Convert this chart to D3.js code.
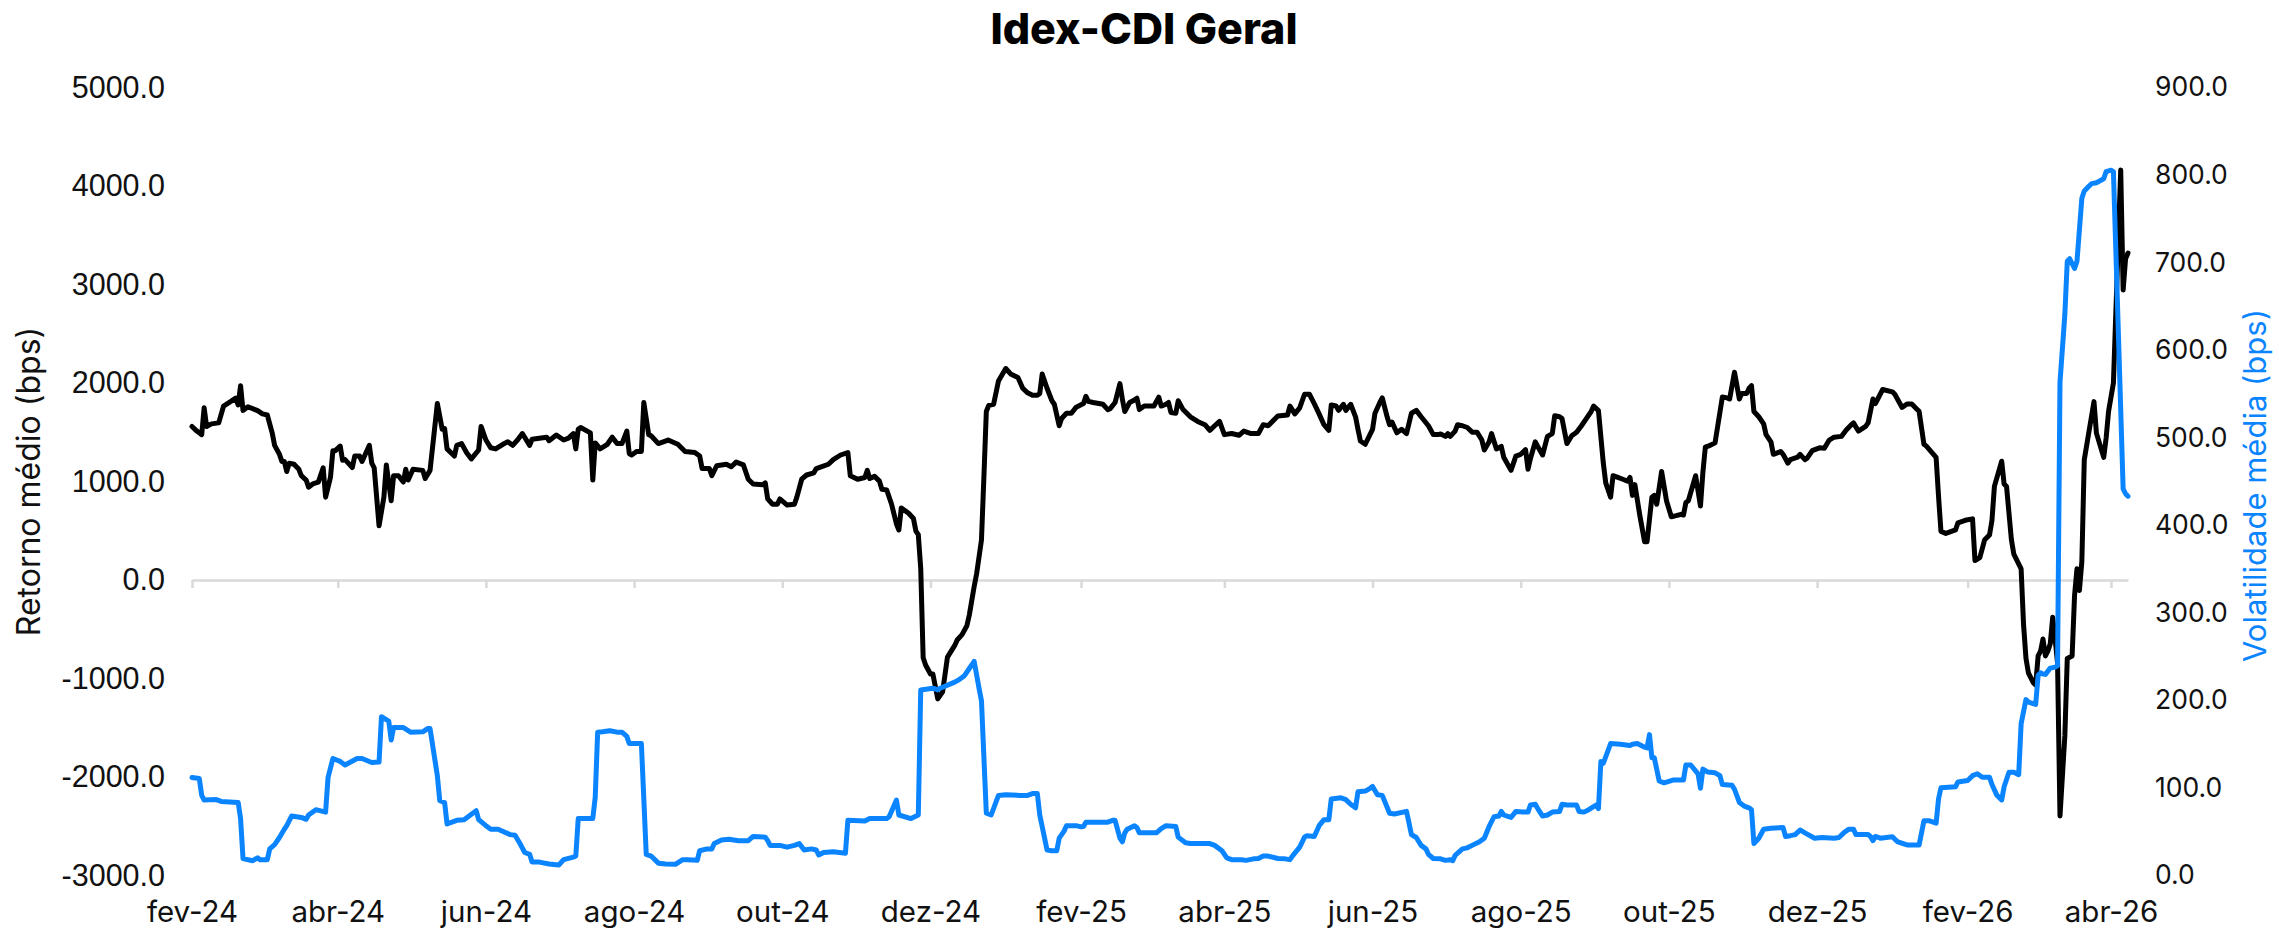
<!DOCTYPE html>
<html>
<head>
<meta charset="utf-8">
<title>Idex-CDI Geral</title>
<script src="https://cdn.jsdelivr.net/npm/d3@7"></script>
<style>
	body { margin: 0; background: #fff; }
	svg { display: block; }
</style>
</head>
<body>
<div id="chart"></div>
<script>

// Retorno médio (bps) - eixo esquerdo
var retornoMedio = [
	["2024-02-01",1559],["2024-02-03",1512],["2024-02-05",1476],["2024-02-06",1748],["2024-02-07",1559],
	["2024-02-09",1585],["2024-02-12",1595],["2024-02-14",1766],["2024-02-17",1813],["2024-02-19",1846],
	["2024-02-20",1777],["2024-02-21",1973],["2024-02-22",1722],["2024-02-24",1759],["2024-02-28",1719],
	["2024-03-01",1686],["2024-03-03",1675],["2024-03-05",1494],["2024-03-06",1367],["2024-03-08",1276],
	["2024-03-09",1204],["2024-03-10",1204],["2024-03-11",1102],["2024-03-12",1186],["2024-03-14",1175],
	["2024-03-16",1124],["2024-03-17",1059],["2024-03-19",1015],["2024-03-20",943],["2024-03-22",979],
	["2024-03-24",994],["2024-03-26",1139],["2024-03-27",841],["2024-03-29",1041],["2024-03-30",1313],
	["2024-03-31",1313],["2024-04-02",1360],["2024-04-03",1215],["2024-04-04",1222],["2024-04-07",1142],
	["2024-04-08",1258],["2024-04-10",1258],["2024-04-11",1204],["2024-04-13",1313],["2024-04-14",1367],
	["2024-04-15",1186],["2024-04-16",1139],["2024-04-18",551],["2024-04-20",841],["2024-04-21",1168],
	["2024-04-23",805],["2024-04-24",1059],["2024-04-26",1059],["2024-04-28",994],["2024-04-29",1124],
	["2024-04-30",1015],["2024-05-02",1124],["2024-05-06",1113],["2024-05-07",1030],["2024-05-09",1113],
	["2024-05-12",1791],["2024-05-14",1530],["2024-05-15",1537],["2024-05-16",1331],["2024-05-19",1258],
	["2024-05-20",1367],["2024-05-22",1385],["2024-05-24",1294],["2024-05-26",1229],["2024-05-29",1320],
	["2024-05-30",1559],["2024-06-01",1421],["2024-06-03",1342],["2024-06-05",1331],["2024-06-08",1378],
	["2024-06-10",1403],["2024-06-12",1367],["2024-06-14",1421],["2024-06-16",1487],["2024-06-19",1367],
	["2024-06-20",1429],["2024-06-23",1440],["2024-06-26",1450],["2024-06-27",1414],["2024-06-30",1472],
	["2024-07-03",1421],["2024-07-05",1440],["2024-07-07",1487],["2024-07-08",1331],["2024-07-09",1530],
	["2024-07-10",1548],["2024-07-14",1494],["2024-07-15",1015],["2024-07-16",1392],["2024-07-18",1331],
	["2024-07-21",1378],["2024-07-23",1450],["2024-07-25",1385],["2024-07-27",1385],["2024-07-29",1512],
	["2024-07-30",1284],["2024-07-31",1269],["2024-08-02",1305],["2024-08-04",1305],["2024-08-05",1802],
	["2024-08-07",1476],["2024-08-08",1465],["2024-08-11",1385],["2024-08-15",1421],["2024-08-19",1378],
	["2024-08-22",1305],["2024-08-26",1294],["2024-08-28",1258],["2024-08-29",1131],["2024-09-01",1131],
	["2024-09-02",1059],["2024-09-04",1160],["2024-09-08",1175],["2024-09-10",1149],["2024-09-12",1197],
	["2024-09-15",1168],["2024-09-17",1023],["2024-09-19",975],["2024-09-23",968],["2024-09-24",986],
	["2024-09-25",823],["2024-09-27",769],["2024-09-29",769],["2024-09-30",823],["2024-10-03",761],
	["2024-10-06",769],["2024-10-07",841],["2024-10-09",1023],["2024-10-11",1066],["2024-10-14",1088],
	["2024-10-15",1131],["2024-10-17",1149],["2024-10-20",1175],["2024-10-22",1222],["2024-10-25",1269],
	["2024-10-28",1294],["2024-10-29",1059],["2024-11-01",1023],["2024-11-04",1041],["2024-11-05",1113],
	["2024-11-06",1030],["2024-11-08",1052],["2024-11-10",1004],["2024-11-11",921],["2024-11-13",914],
	["2024-11-15",769],["2024-11-17",569],["2024-11-18",508],["2024-11-19",732],["2024-11-22",678],
	["2024-11-24",624],["2024-11-25",497],["2024-11-26",460],["2024-11-27",116],["2024-11-28",-790],
	["2024-11-29",-863],["2024-12-01",-954],["2024-12-02",-954],["2024-12-04",-1207],["2024-12-06",-1135],
	["2024-12-08",-783],["2024-12-11",-664],["2024-12-12",-609],["2024-12-14",-555],["2024-12-16",-464],
	["2024-12-17",-355],["2024-12-19",-65],["2024-12-20",62],["2024-12-22",406],["2024-12-23",1041],
	["2024-12-24",1711],["2024-12-25",1773],["2024-12-27",1784],["2024-12-29",2020],["2025-01-01",2147],
	["2025-01-03",2092],["2025-01-06",2056],["2025-01-08",1947],["2025-01-10",1900],["2025-01-12",1875],
	["2025-01-14",1875],["2025-01-15",1893],["2025-01-16",2092],["2025-01-18",1947],["2025-01-20",1820],
	["2025-01-21",1784],["2025-01-23",1566],["2025-01-24",1639],["2025-01-26",1693],["2025-01-28",1693],
	["2025-01-30",1755],["2025-02-02",1791],["2025-02-03",1864],["2025-02-04",1813],["2025-02-06",1802],
	["2025-02-10",1784],["2025-02-12",1730],["2025-02-13",1740],["2025-02-15",1802],["2025-02-17",1994],
	["2025-02-18",1838],["2025-02-19",1711],["2025-02-21",1802],["2025-02-23",1828],["2025-02-24",1846],
	["2025-02-25",1730],["2025-02-27",1766],["2025-03-03",1766],["2025-03-05",1857],["2025-03-06",1766],
	["2025-03-08",1784],["2025-03-09",1802],["2025-03-10",1701],["2025-03-12",1693],["2025-03-13",1820],
	["2025-03-15",1730],["2025-03-18",1657],["2025-03-21",1610],["2025-03-24",1577],["2025-03-26",1519],
	["2025-03-28",1566],["2025-03-30",1610],["2025-04-01",1476],["2025-04-04",1487],["2025-04-07",1469],
	["2025-04-09",1512],["2025-04-12",1487],["2025-04-15",1487],["2025-04-17",1577],["2025-04-19",1566],
	["2025-04-23",1664],["2025-04-27",1675],["2025-04-28",1766],["2025-04-30",1686],["2025-05-02",1748],
	["2025-05-04",1886],["2025-05-06",1886],["2025-05-08",1791],["2025-05-10",1686],["2025-05-12",1577],
	["2025-05-14",1519],["2025-05-15",1777],["2025-05-17",1766],["2025-05-18",1722],["2025-05-20",1784],
	["2025-05-21",1722],["2025-05-23",1784],["2025-05-25",1657],["2025-05-26",1530],["2025-05-27",1411],
	["2025-05-29",1378],["2025-06-01",1530],["2025-06-02",1693],["2025-06-04",1802],["2025-06-05",1849],
	["2025-06-07",1657],["2025-06-08",1577],["2025-06-09",1603],["2025-06-11",1494],["2025-06-13",1530],
	["2025-06-15",1487],["2025-06-17",1693],["2025-06-19",1722],["2025-06-21",1657],["2025-06-24",1566],
	["2025-06-26",1476],["2025-06-28",1476],["2025-06-29",1483],["2025-07-01",1458],["2025-07-02",1487],
	["2025-07-03",1458],["2025-07-05",1512],["2025-07-06",1577],["2025-07-08",1566],["2025-07-10",1548],
	["2025-07-12",1501],["2025-07-14",1501],["2025-07-16",1421],["2025-07-17",1320],["2025-07-19",1403],
	["2025-07-20",1487],["2025-07-22",1331],["2025-07-24",1356],["2025-07-25",1247],["2025-07-28",1113],
	["2025-07-30",1258],["2025-08-01",1276],["2025-08-03",1323],["2025-08-04",1124],["2025-08-05",1233],
	["2025-08-07",1403],["2025-08-08",1356],["2025-08-10",1269],["2025-08-12",1458],["2025-08-14",1487],
	["2025-08-15",1668],["2025-08-17",1657],["2025-08-18",1639],["2025-08-20",1385],["2025-08-22",1465],
	["2025-08-24",1501],["2025-08-26",1566],["2025-08-28",1639],["2025-08-30",1711],["2025-08-31",1766],
	["2025-09-02",1719],["2025-09-04",1186],["2025-09-05",986],["2025-09-07",841],["2025-09-08",1059],
	["2025-09-10",1041],["2025-09-12",1023],["2025-09-14",1004],["2025-09-15",1041],["2025-09-16",859],
	["2025-09-17",968],["2025-09-19",660],["2025-09-21",388],["2025-09-22",388],["2025-09-24",841],
	["2025-09-25",859],["2025-09-26",769],["2025-09-28",1102],["2025-09-30",805],["2025-10-02",642],
	["2025-10-04",653],["2025-10-06",667],["2025-10-07",660],["2025-10-08",787],["2025-10-09",805],
	["2025-10-12",1059],["2025-10-14",751],["2025-10-15",1095],["2025-10-16",1349],["2025-10-18",1367],
	["2025-10-20",1392],["2025-10-23",1857],["2025-10-25",1849],["2025-10-26",1838],["2025-10-28",2110],
	["2025-10-30",1838],["2025-10-31",1893],["2025-11-02",1893],["2025-11-03",1947],["2025-11-04",1973],
	["2025-11-05",1711],["2025-11-07",1657],["2025-11-09",1585],["2025-11-10",1476],["2025-11-12",1403],
	["2025-11-13",1276],["2025-11-16",1305],["2025-11-17",1276],["2025-11-19",1186],["2025-11-20",1222],
	["2025-11-23",1247],["2025-11-24",1276],["2025-11-26",1222],["2025-11-27",1240],["2025-11-29",1313],
	["2025-12-02",1342],["2025-12-04",1338],["2025-12-06",1421],["2025-12-08",1450],["2025-12-11",1458],
	["2025-12-13",1523],["2025-12-15",1574],["2025-12-16",1595],["2025-12-18",1512],["2025-12-21",1559],
	["2025-12-22",1595],["2025-12-24",1838],["2025-12-25",1791],["2025-12-28",1934],["2026-01-01",1910],
	["2026-01-02",1885],["2026-01-05",1752],["2026-01-07",1787],["2026-01-09",1787],["2026-01-11",1737],
	["2026-01-12",1713],["2026-01-14",1378],["2026-01-15",1359],["2026-01-19",1245],["2026-01-20",852],
	["2026-01-21",493],["2026-01-23",473],["2026-01-27",508],["2026-01-28",581],["2026-01-31",606],
	["2026-02-03",621],["2026-02-04",198],["2026-02-06",227],["2026-02-08",409],["2026-02-10",458],
	["2026-02-11",606],["2026-02-12",950],["2026-02-15",1206],["2026-02-16",975],["2026-02-17",950],
	["2026-02-19",409],["2026-02-20",262],["2026-02-23",114],["2026-02-24",-452],["2026-02-25",-796],
	["2026-02-26",-943],["2026-02-28",-1042],["2026-03-01",-1066],["2026-03-02",-771],["2026-03-03",-722],
	["2026-03-04",-599],["2026-03-05",-771],["2026-03-06",-722],["2026-03-07",-647],["2026-03-08",-378],
	["2026-03-09",-599],["2026-03-10",-845],["2026-03-11",-2395],["2026-03-13",-1583],["2026-03-14",-796],
	["2026-03-16",-771],["2026-03-17",-156],["2026-03-18",114],["2026-03-19",-107],["2026-03-20",188],
	["2026-03-21",1221],["2026-03-23",1516],["2026-03-25",1811],["2026-03-26",1491],["2026-03-29",1245],
	["2026-03-30",1442],["2026-03-31",1713],["2026-04-02",2000],["2026-04-05",4162],["2026-04-06",2944],
	["2026-04-07",3262],["2026-04-08",3320]
];

// Volatilidade média (bps) - eixo direito
var volatilidadeMedia = [
	["2024-02-01",111.9],["2024-02-04",110.7],["2024-02-05",91.5],["2024-02-06",86.2],["2024-02-11",86.7],
	["2024-02-13",84.6],["2024-02-20",83.4],["2024-02-21",65.0],["2024-02-22",19.3],["2024-02-26",16.9],
	["2024-02-28",20.2],["2024-02-29",18.1],["2024-03-03",18.1],["2024-03-04",30.4],["2024-03-06",35.3],
	["2024-03-08",43.4],["2024-03-10",52.8],["2024-03-11",56.9],["2024-03-13",67.9],["2024-03-17",66.3],
	["2024-03-19",64.2],["2024-03-20",69.1],["2024-03-23",75.2],["2024-03-27",72.4],["2024-03-28",111.9],
	["2024-03-30",133.6],["2024-04-02",130.3],["2024-04-04",126.2],["2024-04-09",133.6],["2024-04-11",133.6],
	["2024-04-15",129.1],["2024-04-18",129.5],["2024-04-19",181.3],["2024-04-22",176.4],["2024-04-23",154.7],
	["2024-04-24",169.0],["2024-04-28",169.0],["2024-05-01",163.7],["2024-05-06",164.1],["2024-05-08",167.8],
	["2024-05-09",167.8],["2024-05-12",114.0],["2024-05-13",85.4],["2024-05-15",83.4],["2024-05-16",58.9],
	["2024-05-20",63.0],["2024-05-23",63.8],["2024-05-28",74.0],["2024-05-29",63.8],["2024-06-01",56.9],
	["2024-06-03",52.8],["2024-06-06",52.8],["2024-06-11",46.7],["2024-06-13",45.9],["2024-06-15",36.5],
	["2024-06-17",26.3],["2024-06-19",24.2],["2024-06-20",15.3],["2024-06-23",15.3],["2024-06-27",13.2],
	["2024-07-01",12.0],["2024-07-03",18.1],["2024-07-07",21.0],["2024-07-08",22.2],["2024-07-09",65.0],
	["2024-07-15",65.0],["2024-07-16",89.5],["2024-07-17",163.7],["2024-07-19",164.1],["2024-07-22",165.4],
	["2024-07-25",163.7],["2024-07-27",163.7],["2024-07-29",158.9],["2024-07-30",150.7],["2024-08-04",150.7],
	["2024-08-06",24.2],["2024-08-08",22.2],["2024-08-11",14.1],["2024-08-14",13.2],["2024-08-18",12.8],
	["2024-08-21",18.1],["2024-08-23",18.1],["2024-08-27",17.3],["2024-08-28",28.3],["2024-08-31",30.4],
	["2024-09-02",30.4],["2024-09-03",36.5],["2024-09-06",40.6],["2024-09-09",41.4],["2024-09-13",39.8],
	["2024-09-17",39.8],["2024-09-19",44.6],["2024-09-24",43.8],["2024-09-25",39.8],["2024-09-26",34.4],
	["2024-09-30",34.4],["2024-10-03",32.4],["2024-10-06",34.4],["2024-10-08",36.5],["2024-10-10",29.1],
	["2024-10-13",30.4],["2024-10-15",29.1],["2024-10-16",23.4],["2024-10-18",26.3],["2024-10-22",27.1],
	["2024-10-27",25.4],["2024-10-28",63.0],["2024-11-04",62.2],["2024-11-06",65.0],["2024-11-13",65.0],
	["2024-11-14",67.1],["2024-11-17",86.2],["2024-11-18",69.1],["2024-11-23",65.0],["2024-11-26",69.1],
	["2024-11-27",211.9],["2024-12-02",213.9],["2024-12-04",211.9],["2024-12-05",213.9],["2024-12-11",220.8],
	["2024-12-13",224.1],["2024-12-15",228.2],["2024-12-17",236.4],["2024-12-19",244.5],["2024-12-21",213.9],
	["2024-12-22",199.7],["2024-12-24",71.1],["2024-12-26",69.1],["2024-12-29",91.5],["2025-01-01",92.3],
	["2025-01-07",91.5],["2025-01-10",91.5],["2025-01-12",93.6],["2025-01-14",93.6],["2025-01-15",69.1],
	["2025-01-17",42.6],["2025-01-18",29.1],["2025-01-20",28.3],["2025-01-22",28.3],["2025-01-23",42.6],
	["2025-01-25",50.7],["2025-01-26",56.9],["2025-01-30",56.9],["2025-02-01",55.6],["2025-02-02",56.0],
	["2025-02-03",60.9],["2025-02-12",60.9],["2025-02-14",63.0],["2025-02-15",63.0],["2025-02-17",42.6],
	["2025-02-18",38.5],["2025-02-19",48.7],["2025-02-20",52.8],["2025-02-23",56.9],["2025-02-24",54.9],
	["2025-02-25",48.7],["2025-03-04",48.7],["2025-03-06",53.6],["2025-03-08",56.9],["2025-03-12",56.0],
	["2025-03-13",43.8],["2025-03-16",37.3],["2025-03-18",36.5],["2025-03-26",36.5],["2025-03-28",34.4],
	["2025-03-31",28.3],["2025-04-02",20.2],["2025-04-04",18.1],["2025-04-08",18.1],["2025-04-10",17.3],
	["2025-04-13",19.0],["2025-04-15",19.4],["2025-04-17",22.2],["2025-04-19",22.2],["2025-04-23",19.4],
	["2025-04-26",19.0],["2025-04-28",18.1],["2025-04-29",22.2],["2025-04-30",25.5],["2025-05-02",32.4],
	["2025-05-04",43.8],["2025-05-05",45.5],["2025-05-08",44.6],["2025-05-10",56.9],["2025-05-12",63.8],
	["2025-05-14",63.8],["2025-05-15",87.4],["2025-05-19",88.7],["2025-05-21",86.6],["2025-05-23",81.3],
	["2025-05-25",77.3],["2025-05-26",95.6],["2025-05-29",96.4],["2025-05-31",99.6],["2025-06-01",101.7],
	["2025-06-03",92.3],["2025-06-05",91.5],["2025-06-08",71.1],["2025-06-10",70.3],["2025-06-15",73.2],
	["2025-06-17",46.7],["2025-06-19",43.4],["2025-06-21",34.4],["2025-06-23",30.4],["2025-06-24",24.2],
	["2025-06-26",19.4],["2025-06-29",19.0],["2025-07-01",17.3],["2025-07-03",18.1],["2025-07-04",16.9],
	["2025-07-05",23.0],["2025-07-08",30.4],["2025-07-10",31.6],["2025-07-12",34.4],["2025-07-15",38.5],
	["2025-07-17",42.6],["2025-07-19",56.0],["2025-07-21",67.1],["2025-07-23",67.9],["2025-07-24",73.2],
	["2025-07-25",69.1],["2025-07-28",66.3],["2025-07-30",73.2],["2025-08-02",72.4],["2025-08-04",72.4],
	["2025-08-05",80.5],["2025-08-07",81.3],["2025-08-08",76.5],["2025-08-10",67.9],["2025-08-12",69.1],
	["2025-08-14",72.4],["2025-08-17",73.2],["2025-08-18",81.3],["2025-08-20",80.5],["2025-08-24",80.5],
	["2025-08-25",73.2],["2025-08-27",72.4],["2025-08-29",75.2],["2025-09-01",80.5],["2025-09-02",76.5],
	["2025-09-03",130.3],["2025-09-04",128.2],["2025-09-07",150.7],["2025-09-11",149.9],["2025-09-15",148.6],
	["2025-09-16",149.9],["2025-09-18",150.7],["2025-09-21",146.6],["2025-09-22",145.8],["2025-09-23",160.9],
	["2025-09-24",134.4],["2025-09-25",134.4],["2025-09-27",107.9],["2025-09-29",105.8],["2025-10-03",109.1],
	["2025-10-07",109.1],["2025-10-08",126.2],["2025-10-10",126.2],["2025-10-13",116.1],["2025-10-14",99.6],
	["2025-10-15",121.5],["2025-10-17",118.1],["2025-10-20",117.3],["2025-10-22",114.0],["2025-10-23",103.8],
	["2025-10-27",103.0],["2025-10-28",98.5],["2025-10-30",83.4],["2025-11-01",79.3],["2025-11-03",77.3],
	["2025-11-04",75.2],["2025-11-05",36.5],["2025-11-07",42.6],["2025-11-09",52.8],["2025-11-12",54.0],
	["2025-11-17",54.9],["2025-11-18",44.6],["2025-11-20",45.5],["2025-11-22",46.7],["2025-11-24",52.0],
	["2025-11-26",48.7],["2025-11-30",42.6],["2025-12-03",43.4],["2025-12-08",42.6],["2025-12-10",43.4],
	["2025-12-12",48.7],["2025-12-14",52.8],["2025-12-16",52.8],["2025-12-17",46.7],["2025-12-22",46.7],
	["2025-12-23",44.6],["2025-12-24",39.8],["2025-12-25",44.6],["2025-12-27",42.6],["2026-01-01",44.3],
	["2026-01-03",38.8],["2026-01-07",34.9],["2026-01-12",34.9],["2026-01-14",62.6],["2026-01-16",62.6],
	["2026-01-19",59.8],["2026-01-20",87.4],["2026-01-21",100.2],["2026-01-27",101.3],["2026-01-28",106.8],
	["2026-02-01",108.5],["2026-02-03",114.0],["2026-02-05",116.2],["2026-02-07",112.3],["2026-02-10",112.3],
	["2026-02-11",104.0],["2026-02-13",91.8],["2026-02-15",86.3],["2026-02-16",101.3],["2026-02-18",117.9],
	["2026-02-20",117.9],["2026-02-22",115.1],["2026-02-23",173.2],["2026-02-25",200.9],["2026-02-26",198.1],
	["2026-03-01",195.4],["2026-03-02",228.6],["2026-03-03",231.4],["2026-03-04",230.2],["2026-03-05",229.7],
	["2026-03-07",236.9],["2026-03-09",238.0],["2026-03-10",239.6],["2026-03-11",563.3],["2026-03-13",640.7],
	["2026-03-14",701.6],["2026-03-15",704.4],["2026-03-17",693.3],["2026-03-18",701.6],["2026-03-20",773.5],
	["2026-03-21",781.8],["2026-03-23",787.4],["2026-03-24",790.2],["2026-03-26",791.3],["2026-03-29",795.7],
	["2026-03-30",804.0],["2026-04-01",805.6],["2026-04-02",804.0],["2026-04-06",441.6],["2026-04-07",436.0],
	["2026-04-08",433.2]
];

// eixo X: marcas bimestrais
var tickDates = ["2024-02-01","2024-04-01","2024-06-01","2024-08-01","2024-10-01","2024-12-01",
	"2025-02-01","2025-04-01","2025-06-01","2025-08-01","2025-10-01","2025-12-01","2026-02-01","2026-04-01"];
var tickLabels = ["fev-24","abr-24","jun-24","ago-24","out-24","dez-24",
	"fev-25","abr-25","jun-25","ago-25","out-25","dez-25","fev-26","abr-26"];

var leftTicks = [-3000, -2000, -1000, 0, 1000, 2000, 3000, 4000, 5000];
var rightTicks = [0, 100, 200, 300, 400, 500, 600, 700, 800, 900];

var dateStart = "2024-02-01",
	dateEnd = "2026-04-08";

let svg_width = 2279,
	svg_height = 928;

var plotLeft = 192, plotRight = 2128,
	plotTop = 87.5, plotBottom = 875.5;

var blue = "#0a84ff";

var parseDate = d3.utcParse("%Y-%m-%d");

var retornoData = retornoMedio.map(function(d) { return { date: parseDate(d[0]), value: d[1] }; });
var volData = volatilidadeMedia.map(function(d) { return { date: parseDate(d[0]), value: d[1] }; });

//
// Scales
//
var xScale = d3.scaleUtc()
	.domain([parseDate(dateStart), parseDate(dateEnd)])
	.range([plotLeft, plotRight]);

var yLeft = d3.scaleLinear().domain([-3000, 5000]).range([plotBottom, plotTop]);
var yRight = d3.scaleLinear().domain([0, 900]).range([plotBottom, plotTop]);

var svg = d3.select("#chart").append("svg")
	.attr("width", svg_width)
	.attr("height", svg_height);

// Title
svg.append("text")
	.attr("x", 1144)
	.attr("y", 44)
	.attr("text-anchor", "middle")
	.attr("font-family", "Inter")
	.attr("font-weight", 800)
	.attr("font-size", 43)
	.attr("fill", "#000")
	.text("Idex-CDI Geral");

// X-axis (sits on the zero line, labels at the bottom)
var xAxis = d3.axisBottom(xScale)
	.tickValues(tickDates.map(parseDate))
	.tickFormat(function(d, i) { return tickLabels[i]; })
	.tickSize(8)
	.tickSizeOuter(0)
	.tickPadding(313);

var gx = svg.append("g")
	.attr("transform", "translate(0," + yLeft(0) + ")")
	.call(xAxis);
gx.select(".domain").attr("stroke", "#d9d9d9").attr("stroke-width", 2.5);
gx.selectAll(".tick line").attr("stroke", "#d9d9d9").attr("stroke-width", 2.5);
gx.selectAll(".tick text")
	.attr("font-family", "Inter")
	.attr("font-size", 29.5)
	.attr("fill", "#111");

// Y-axis left
var gyl = svg.append("g")
	.attr("transform", "translate(" + plotLeft + ",0)")
	.call(d3.axisLeft(yLeft).tickValues(leftTicks)
		.tickFormat(function(d) { return d.toFixed(1); })
		.tickSize(0).tickPadding(27));
gyl.select(".domain").remove();
gyl.selectAll(".tick text")
	.attr("font-family", "Liberation Sans")
	.attr("font-size", 30.5)
	.attr("fill", "#111");

// Y-axis right
var gyr = svg.append("g")
	.attr("transform", "translate(" + plotRight + ",0)")
	.call(d3.axisRight(yRight).tickValues(rightTicks)
		.tickFormat(function(d) { return d.toFixed(1); })
		.tickSize(0).tickPadding(27));
gyr.select(".domain").remove();
gyr.selectAll(".tick text")
	.attr("font-family", "Inter")
	.attr("font-size", 26.5)
	.attr("fill", "#111");

// Axis titles
var midY = (plotTop + plotBottom) / 2;
svg.append("text")
	.attr("transform", "translate(29," + midY + ") rotate(-90)")
	.attr("text-anchor", "middle")
	.attr("dy", "0.35em")
	.attr("font-family", "Inter")
	.attr("font-size", 32)
	.attr("fill", "#111")
	.text("Retorno médio (bps)");

svg.append("text")
	.attr("transform", "translate(2255," + (midY + 4) + ") rotate(-90)")
	.attr("text-anchor", "middle")
	.attr("dy", "0.35em")
	.attr("font-family", "Inter")
	.attr("font-size", 31)
	.attr("fill", blue)
	.text("Volatilidade média (bps)");

//
// Lines
//
var lineLeft = d3.line()
	.x(function(d) { return xScale(d.date); })
	.y(function(d) { return yLeft(d.value); });

var lineRight = d3.line()
	.x(function(d) { return xScale(d.date); })
	.y(function(d) { return yRight(d.value); });

svg.append("path")
	.datum(retornoData)
	.attr("d", lineLeft)
	.attr("fill", "none")
	.attr("stroke", "#000")
	.attr("stroke-width", 5)
	.attr("stroke-linejoin", "round")
	.attr("stroke-linecap", "round");

svg.append("path")
	.datum(volData)
	.attr("d", lineRight)
	.attr("fill", "none")
	.attr("stroke", blue)
	.attr("stroke-width", 5)
	.attr("stroke-linejoin", "round")
	.attr("stroke-linecap", "round");

</script>
</body>
</html>
